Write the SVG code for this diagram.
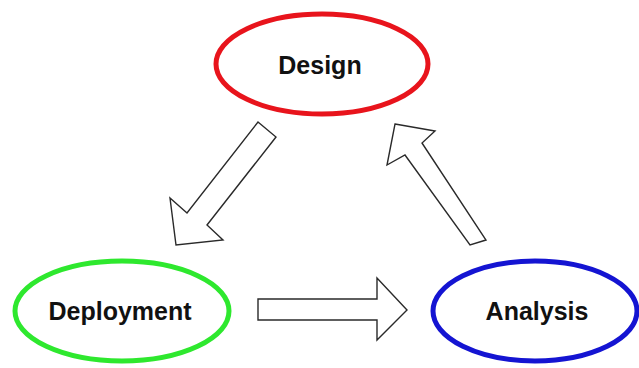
<svg xmlns="http://www.w3.org/2000/svg" width="639" height="368" viewBox="0 0 639 368">
  <style>
    .stage { fill: #ffffff; stroke-width: 5; }
    .label { font-family: "Liberation Sans", Arial, sans-serif; font-weight: bold; font-size: 25px; fill: #111111; text-anchor: middle; dominant-baseline: central; }
    .flow { fill: #ffffff; stroke: #2a2a2a; stroke-width: 1.4; stroke-linejoin: miter; }
  </style>
  <rect width="639" height="368" fill="#ffffff"/>

  <!-- block arrows between stages -->
  <g id="connectors">
    <polygon class="flow" points="258,122 276,137 207,225 223,240 176,245 170,198 187,213"/>
    <polygon class="flow" points="258,299 377,299 377,278 407,310 377,340 377,320 258,320"/>
    <polygon class="flow" points="395,124 435,131 422,143 486,240 470,245 405,155 387,165"/>
  </g>

  <g id="design">
    <ellipse class="stage" cx="322" cy="64" rx="106" ry="50" stroke="#e8141c"/>
    <text class="label" x="320" y="65">Design</text>
  </g>

  <g id="deployment">
    <ellipse class="stage" cx="122" cy="311" rx="107" ry="50" stroke="#2ee82e"/>
    <text class="label" x="120" y="311">Deployment</text>
  </g>

  <g id="analysis">
    <ellipse class="stage" cx="535" cy="311" rx="102" ry="50" stroke="#1414d2"/>
    <text class="label" x="537" y="311">Analysis</text>
  </g>
</svg>
